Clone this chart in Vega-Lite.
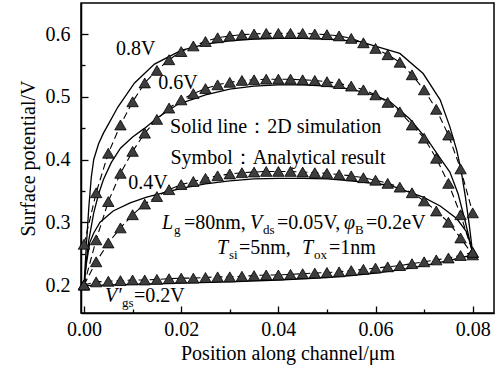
{
  "$schema": "https://vega.github.io/schema/vega-lite/v6.json",
  "autosize": "none",
  "width": 413,
  "height": 310,
  "padding": {"left": 81, "top": 3, "right": 7, "bottom": 56},
  "background": "white",
  "config": {
    "view": {"stroke": "black", "strokeWidth": 1.5},
    "axis": {
      "grid": false,
      "domainColor": "black",
      "domainWidth": 1.5,
      "tickColor": "black",
      "tickWidth": 1.3,
      "labelFont": "Liberation Serif",
      "labelFontSize": 20,
      "labelColor": "black",
      "titleFont": "Liberation Serif",
      "titleFontSize": 20,
      "titleFontWeight": "normal",
      "titleColor": "black"
    },
    "text": {"font": "Liberation Serif", "fontSize": 20, "color": "black"}
  },
  "datasets": {
    "sim": [
      {"v":"0.8V","x":0,"y":0.2},{"v":"0.8V","x":0.0005,"y":0.265},{"v":"0.8V","x":0.001,"y":0.325},{"v":"0.8V","x":0.0015,"y":0.372},{"v":"0.8V","x":0.002,"y":0.4},{"v":"0.8V","x":0.003,"y":0.425},{"v":"0.8V","x":0.004,"y":0.442},{"v":"0.8V","x":0.005,"y":0.456},{"v":"0.8V","x":0.007,"y":0.484},{"v":"0.8V","x":0.0104,"y":0.522},{"v":"0.8V","x":0.0145,"y":0.552},{"v":"0.8V","x":0.02,"y":0.574},{"v":"0.8V","x":0.025,"y":0.584},{"v":"0.8V","x":0.03,"y":0.589},{"v":"0.8V","x":0.035,"y":0.592},{"v":"0.8V","x":0.04,"y":0.593},{"v":"0.8V","x":0.045,"y":0.593},{"v":"0.8V","x":0.05,"y":0.592},{"v":"0.8V","x":0.0568,"y":0.588},{"v":"0.8V","x":0.065,"y":0.569},{"v":"0.8V","x":0.0698,"y":0.537},{"v":"0.8V","x":0.0733,"y":0.495},{"v":"0.8V","x":0.0753,"y":0.452},{"v":"0.8V","x":0.0767,"y":0.415},{"v":"0.8V","x":0.0776,"y":0.383},{"v":"0.8V","x":0.0785,"y":0.34},{"v":"0.8V","x":0.0793,"y":0.295},{"v":"0.8V","x":0.08,"y":0.25},
      {"v":"0.6V","x":0,"y":0.2},{"v":"0.6V","x":0.0005,"y":0.24},{"v":"0.6V","x":0.001,"y":0.272},{"v":"0.6V","x":0.002,"y":0.315},{"v":"0.6V","x":0.003,"y":0.345},{"v":"0.6V","x":0.004,"y":0.368},{"v":"0.6V","x":0.0056,"y":0.395},{"v":"0.6V","x":0.0075,"y":0.418},{"v":"0.6V","x":0.01,"y":0.436},{"v":"0.6V","x":0.0125,"y":0.45},{"v":"0.6V","x":0.0152,"y":0.467},{"v":"0.6V","x":0.0193,"y":0.488},{"v":"0.6V","x":0.025,"y":0.503},{"v":"0.6V","x":0.03,"y":0.512},{"v":"0.6V","x":0.035,"y":0.517},{"v":"0.6V","x":0.04,"y":0.519},{"v":"0.6V","x":0.045,"y":0.519},{"v":"0.6V","x":0.05,"y":0.517},{"v":"0.6V","x":0.055,"y":0.512},{"v":"0.6V","x":0.06,"y":0.502},{"v":"0.6V","x":0.063,"y":0.492},{"v":"0.6V","x":0.067,"y":0.465},{"v":"0.6V","x":0.071,"y":0.428},{"v":"0.6V","x":0.0735,"y":0.4},{"v":"0.6V","x":0.0753,"y":0.38},{"v":"0.6V","x":0.077,"y":0.345},{"v":"0.6V","x":0.0785,"y":0.3},{"v":"0.6V","x":0.08,"y":0.25},
      {"v":"0.4V","x":0,"y":0.2},{"v":"0.4V","x":0.0005,"y":0.235},{"v":"0.4V","x":0.0012,"y":0.268},{"v":"0.4V","x":0.002,"y":0.283},{"v":"0.4V","x":0.0033,"y":0.3},{"v":"0.4V","x":0.006,"y":0.318},{"v":"0.4V","x":0.0095,"y":0.331},{"v":"0.4V","x":0.0129,"y":0.34},{"v":"0.4V","x":0.0163,"y":0.347},{"v":"0.4V","x":0.02,"y":0.354},{"v":"0.4V","x":0.025,"y":0.361},{"v":"0.4V","x":0.03,"y":0.366},{"v":"0.4V","x":0.035,"y":0.369},{"v":"0.4V","x":0.04,"y":0.37},{"v":"0.4V","x":0.045,"y":0.37},{"v":"0.4V","x":0.05,"y":0.369},{"v":"0.4V","x":0.055,"y":0.366},{"v":"0.4V","x":0.0629,"y":0.359},{"v":"0.4V","x":0.0698,"y":0.34},{"v":"0.4V","x":0.0733,"y":0.326},{"v":"0.4V","x":0.0767,"y":0.306},{"v":"0.4V","x":0.0787,"y":0.285},{"v":"0.4V","x":0.08,"y":0.255},
      {"v":"0.2V","x":0,"y":0.199},{"v":"0.2V","x":0.01,"y":0.201},{"v":"0.2V","x":0.02,"y":0.203},{"v":"0.2V","x":0.03,"y":0.205},{"v":"0.2V","x":0.04,"y":0.208},{"v":"0.2V","x":0.05,"y":0.212},{"v":"0.2V","x":0.055,"y":0.215},{"v":"0.2V","x":0.06,"y":0.219},{"v":"0.2V","x":0.065,"y":0.224},{"v":"0.2V","x":0.07,"y":0.231},{"v":"0.2V","x":0.075,"y":0.239},{"v":"0.2V","x":0.08,"y":0.248}
    ],
    "ana": [
      {"v":"0.8V","x":0,"y":0.265},{"v":"0.8V","x":0.0025,"y":0.347},{"v":"0.8V","x":0.005,"y":0.41},{"v":"0.8V","x":0.0075,"y":0.455},{"v":"0.8V","x":0.01,"y":0.492},{"v":"0.8V","x":0.0125,"y":0.522},{"v":"0.8V","x":0.015,"y":0.542},{"v":"0.8V","x":0.0175,"y":0.559},{"v":"0.8V","x":0.02,"y":0.572},{"v":"0.8V","x":0.0225,"y":0.581},{"v":"0.8V","x":0.025,"y":0.588},{"v":"0.8V","x":0.0275,"y":0.594},{"v":"0.8V","x":0.03,"y":0.597},{"v":"0.8V","x":0.0325,"y":0.599},{"v":"0.8V","x":0.035,"y":0.6},{"v":"0.8V","x":0.0375,"y":0.601},{"v":"0.8V","x":0.04,"y":0.601},{"v":"0.8V","x":0.0425,"y":0.601},{"v":"0.8V","x":0.045,"y":0.601},{"v":"0.8V","x":0.0475,"y":0.6},{"v":"0.8V","x":0.05,"y":0.599},{"v":"0.8V","x":0.0525,"y":0.597},{"v":"0.8V","x":0.055,"y":0.593},{"v":"0.8V","x":0.0575,"y":0.586},{"v":"0.8V","x":0.06,"y":0.577},{"v":"0.8V","x":0.0625,"y":0.567},{"v":"0.8V","x":0.065,"y":0.555},{"v":"0.8V","x":0.0675,"y":0.535},{"v":"0.8V","x":0.07,"y":0.511},{"v":"0.8V","x":0.0725,"y":0.48},{"v":"0.8V","x":0.075,"y":0.439},{"v":"0.8V","x":0.0775,"y":0.385},{"v":"0.8V","x":0.08,"y":0.315},
      {"v":"0.6V","x":0,"y":0.2},{"v":"0.6V","x":0.0025,"y":0.272},{"v":"0.6V","x":0.005,"y":0.333},{"v":"0.6V","x":0.0075,"y":0.378},{"v":"0.6V","x":0.01,"y":0.413},{"v":"0.6V","x":0.0125,"y":0.442},{"v":"0.6V","x":0.015,"y":0.464},{"v":"0.6V","x":0.0175,"y":0.482},{"v":"0.6V","x":0.02,"y":0.495},{"v":"0.6V","x":0.0225,"y":0.505},{"v":"0.6V","x":0.025,"y":0.513},{"v":"0.6V","x":0.0275,"y":0.519},{"v":"0.6V","x":0.03,"y":0.523},{"v":"0.6V","x":0.0325,"y":0.526},{"v":"0.6V","x":0.035,"y":0.527},{"v":"0.6V","x":0.0375,"y":0.528},{"v":"0.6V","x":0.04,"y":0.528},{"v":"0.6V","x":0.0425,"y":0.528},{"v":"0.6V","x":0.045,"y":0.527},{"v":"0.6V","x":0.0475,"y":0.526},{"v":"0.6V","x":0.05,"y":0.524},{"v":"0.6V","x":0.0525,"y":0.521},{"v":"0.6V","x":0.055,"y":0.517},{"v":"0.6V","x":0.0575,"y":0.511},{"v":"0.6V","x":0.06,"y":0.503},{"v":"0.6V","x":0.0625,"y":0.491},{"v":"0.6V","x":0.065,"y":0.476},{"v":"0.6V","x":0.0675,"y":0.455},{"v":"0.6V","x":0.07,"y":0.434},{"v":"0.6V","x":0.0725,"y":0.402},{"v":"0.6V","x":0.075,"y":0.362},{"v":"0.6V","x":0.0775,"y":0.312},{"v":"0.6V","x":0.08,"y":0.252},
      {"v":"0.4V","x":0,"y":0.2},{"v":"0.4V","x":0.0025,"y":0.237},{"v":"0.4V","x":0.005,"y":0.267},{"v":"0.4V","x":0.0075,"y":0.291},{"v":"0.4V","x":0.01,"y":0.312},{"v":"0.4V","x":0.0125,"y":0.329},{"v":"0.4V","x":0.015,"y":0.341},{"v":"0.4V","x":0.0175,"y":0.352},{"v":"0.4V","x":0.02,"y":0.36},{"v":"0.4V","x":0.0225,"y":0.365},{"v":"0.4V","x":0.025,"y":0.37},{"v":"0.4V","x":0.0275,"y":0.374},{"v":"0.4V","x":0.03,"y":0.377},{"v":"0.4V","x":0.0325,"y":0.379},{"v":"0.4V","x":0.035,"y":0.38},{"v":"0.4V","x":0.0375,"y":0.381},{"v":"0.4V","x":0.04,"y":0.381},{"v":"0.4V","x":0.0425,"y":0.381},{"v":"0.4V","x":0.045,"y":0.38},{"v":"0.4V","x":0.0475,"y":0.379},{"v":"0.4V","x":0.05,"y":0.378},{"v":"0.4V","x":0.0525,"y":0.376},{"v":"0.4V","x":0.055,"y":0.374},{"v":"0.4V","x":0.0575,"y":0.371},{"v":"0.4V","x":0.06,"y":0.367},{"v":"0.4V","x":0.0625,"y":0.362},{"v":"0.4V","x":0.065,"y":0.356},{"v":"0.4V","x":0.0675,"y":0.347},{"v":"0.4V","x":0.07,"y":0.334},{"v":"0.4V","x":0.0725,"y":0.318},{"v":"0.4V","x":0.075,"y":0.3},{"v":"0.4V","x":0.0775,"y":0.275},{"v":"0.4V","x":0.08,"y":0.248},
      {"v":"0.2V","x":0,"y":0.2},{"v":"0.2V","x":0.0025,"y":0.205},{"v":"0.2V","x":0.005,"y":0.206},{"v":"0.2V","x":0.0075,"y":0.207},{"v":"0.2V","x":0.01,"y":0.208},{"v":"0.2V","x":0.0125,"y":0.208},{"v":"0.2V","x":0.015,"y":0.209},{"v":"0.2V","x":0.0175,"y":0.21},{"v":"0.2V","x":0.02,"y":0.211},{"v":"0.2V","x":0.0225,"y":0.211},{"v":"0.2V","x":0.025,"y":0.212},{"v":"0.2V","x":0.0275,"y":0.213},{"v":"0.2V","x":0.03,"y":0.213},{"v":"0.2V","x":0.0325,"y":0.214},{"v":"0.2V","x":0.035,"y":0.215},{"v":"0.2V","x":0.0375,"y":0.216},{"v":"0.2V","x":0.04,"y":0.216},{"v":"0.2V","x":0.0425,"y":0.217},{"v":"0.2V","x":0.045,"y":0.218},{"v":"0.2V","x":0.0475,"y":0.219},{"v":"0.2V","x":0.05,"y":0.22},{"v":"0.2V","x":0.0525,"y":0.221},{"v":"0.2V","x":0.055,"y":0.223},{"v":"0.2V","x":0.0575,"y":0.225},{"v":"0.2V","x":0.06,"y":0.227},{"v":"0.2V","x":0.0625,"y":0.229},{"v":"0.2V","x":0.065,"y":0.231},{"v":"0.2V","x":0.0675,"y":0.234},{"v":"0.2V","x":0.07,"y":0.237},{"v":"0.2V","x":0.0725,"y":0.24},{"v":"0.2V","x":0.075,"y":0.243},{"v":"0.2V","x":0.0775,"y":0.247},{"v":"0.2V","x":0.08,"y":0.252}
    ],
    "labels": [
      {"x":0.0066,"y":0.576,"t":"0.8V"},
      {"x":0.0153,"y":0.5214,"t":"0.6V"},
      {"x":0.0091,"y":0.362,"t":"0.4V"},
      {"x":0.0177,"y":0.4518,"t":"Solid line：2D simulation"},
      {"x":0.0178,"y":0.4024,"t":"Symbol：Analytical result"}
    ],
    "italic": [
      {"x":0.01605,"y":0.2988,"t":"L"},
      {"x":0.03417,"y":0.2988,"t":"V"},
      {"x":0.05351,"y":0.2988,"t":"φ"},
      {"x":0.02737,"y":0.259,"t":"T"},
      {"x":0.04487,"y":0.259,"t":"T"},
      {"x":0.00432,"y":0.1825,"t":"V′"}
    ],
    "normal": [
      {"x":0.02058,"y":0.2988,"t":"=80nm,"},
      {"x":0.03972,"y":0.2988,"t":"=0.05V,"},
      {"x":0.05804,"y":0.2988,"t":"=0.2eV"},
      {"x":0.0319,"y":0.259,"t":"=5nm,"},
      {"x":0.05042,"y":0.259,"t":"=1nm"},
      {"x":0.01029,"y":0.1825,"t":"=0.2V"}
    ],
    "sub": [
      {"x":0.01852,"y":0.2988,"t":"g"},
      {"x":0.03684,"y":0.2988,"t":"ds"},
      {"x":0.05578,"y":0.2988,"t":"B"},
      {"x":0.02984,"y":0.259,"t":"si"},
      {"x":0.04734,"y":0.259,"t":"ox"},
      {"x":0.00782,"y":0.1825,"t":"gs"}
    ]
  },
  "encoding": {
    "x": {
      "field": "x", "type": "quantitative",
      "scale": {"domain": [-0.00062, 0.08438], "nice": false, "zero": false},
      "axis": {
        "title": "Position along channel/μm",
        "values": [0, 0.01, 0.02, 0.03, 0.04, 0.05, 0.06, 0.07, 0.08],
        "labelExpr": "abs(datum.value/0.02 - round(datum.value/0.02)) > 0.01 ? '' : format(datum.value, '.2f')",
        "tickSize": {"condition": {"test": "abs(datum.value/0.02 - round(datum.value/0.02)) > 0.01", "value": -4}, "value": -7},
        "labelPadding": 13,
        "labelFlush": false,
        "labelOverlap": false,
        "titlePadding": 1
      }
    },
    "y": {
      "field": "y", "type": "quantitative",
      "scale": {"domain": [0.1554, 0.6494], "nice": false, "zero": false},
      "axis": {
        "title": "Surface potential/V",
        "values": [0.2, 0.25, 0.3, 0.35, 0.4, 0.45, 0.5, 0.55, 0.6],
        "labelExpr": "abs(datum.value*10 - round(datum.value*10)) > 0.01 ? '' : format(datum.value, '.1f')",
        "tickSize": {"condition": {"test": "abs(datum.value*10 - round(datum.value*10)) > 0.01", "value": -4}, "value": -7},
        "labelPadding": 18,
        "labelFlush": false,
        "labelOverlap": false,
        "titlePadding": 7
      }
    }
  },
  "layer": [
    {
      "data": {"name": "sim"},
      "mark": {"type": "line", "color": "black", "strokeWidth": 1.3},
      "encoding": {"detail": {"field": "v"}}
    },
    {
      "data": {"name": "ana"},
      "mark": {"type": "line", "color": "black", "strokeWidth": 1.1, "strokeDash": [7, 4]},
      "encoding": {"detail": {"field": "v"}}
    },
    {
      "data": {"name": "ana"},
      "mark": {"type": "point", "shape": "triangle-up", "filled": true, "size": 130, "fill": "#3d3d3d", "stroke": "black", "strokeWidth": 0.8, "opacity": 1, "fillOpacity": 1},
      "encoding": {"detail": {"field": "v"}}
    },
    {
      "data": {"name": "labels"},
      "mark": {"type": "text", "align": "left", "baseline": "middle"},
      "encoding": {"text": {"field": "t"}}
    },
    {
      "data": {"name": "italic"},
      "mark": {"type": "text", "align": "left", "baseline": "middle", "fontStyle": "italic"},
      "encoding": {"text": {"field": "t"}}
    },
    {
      "data": {"name": "normal"},
      "mark": {"type": "text", "align": "left", "baseline": "middle"},
      "encoding": {"text": {"field": "t"}}
    },
    {
      "data": {"name": "sub"},
      "mark": {"type": "text", "align": "left", "baseline": "middle", "fontSize": 13, "dy": 7},
      "encoding": {"text": {"field": "t"}}
    }
  ]
}
